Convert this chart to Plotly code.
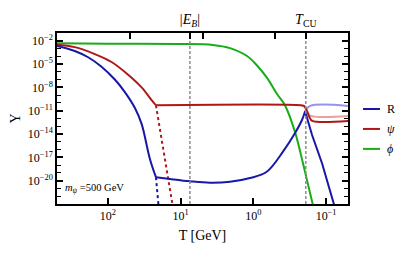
import numpy as np
import plotly.graph_objects as go

# ---- data (log10 values) ----
# R (blue)
R_up_logT = [2.702, 2.684, 2.454, 2.271, 2.087, 1.904, 1.766, 1.628, 1.536, 1.422, 1.339]
R_up_logY = [-2.68, -2.70, -3.31, -4.12, -5.34, -6.98, -8.61, -10.65, -12.69, -17.20, -19.55]
R_mid_logT = [1.339, 1.147, 0.872, 0.596, 0.321, 0.046, -0.184, -0.412, -0.573, -0.670, -0.711]
R_mid_logY = [-19.55, -19.78, -20.08, -20.27, -20.15, -19.66, -18.85, -16.20, -13.87, -12.16, -11.06]
R_low_logT = [-0.711, -0.752, -0.807, -0.945, -1.096, -1.110]
R_low_logY = [-11.06, -12.40, -14.12, -17.79, -22.69, -23.10]
R_dot_logT = [1.339, 1.305]
R_dot_logY = [-19.55, -23.05]
R_faded_logT = [-0.711, -0.780, -1.302]
R_faded_logY = [-11.06, -10.38, -10.38]

# psi (red)
psi_up_logT = [2.702, 2.454, 2.179, 1.949, 1.721, 1.536, 1.399, 1.353, 1.339]
psi_up_logY = [-2.52, -2.82, -3.71, -4.73, -6.37, -8.00, -9.63, -10.16, -10.30]
psi_flat_logT = [1.339, -0.656, -0.700, -0.740, -0.775, -0.808, -1.302]
psi_flat_logY = [-10.30, -10.30, -10.40, -11.10, -11.90, -12.30, -12.32]
psi_dot_logT = [1.339, 1.112]
psi_dot_logY = [-10.30, -23.05]
psi_faded_logT = [-0.670, -0.710, -0.740, -0.780, -1.302]
psi_faded_logY = [-10.30, -10.55, -11.15, -11.62, -11.67]

# phi (green)
phi_logT = [2.702, 2.0, 1.009, 0.555, 0.321, 0.087, -0.050, -0.188, -0.326, -0.436, -0.573, -0.683, -0.807, -0.821]
phi_logY = [-2.33, -2.37, -2.40, -2.53, -2.94, -3.96, -5.18, -6.77, -8.85, -10.32, -13.75, -17.79, -22.69, -23.17]

# reference temperatures
T_EB = 7.45
T_CU = 0.19

x_ticks = [100, 10, 1, 0.1]
x_ticktext = ["10<sup>2</sup>", "10<sup>1</sup>", "10<sup>0</sup>", "10<sup>\u22121</sup>"]
top_ticks = [50, 5, 0.5, T_EB, T_CU]
top_ticktext = ["", "", "", "|<i>E</i><sub><i>B</i></sub>|", "<i>T</i><sub>CU</sub>"]
y_major_exp = [-2, -5, -8, -11, -14, -17, -20]

BLUE = "#1818a8"
RED = "#b01818"
GREEN = "#18ac18"
FBLUE = "#9494ee"
FRED = "#e8a0a0"
GRAY = "#8c8c8c"

def p(lt, ly):
    return np.power(10.0, lt), np.power(10.0, ly)

fig = go.Figure()

def add(lt, ly, color, dash="solid", shape="spline", width=2):
    x, y = p(lt, ly)
    fig.add_trace(go.Scatter(x=x, y=y, mode="lines", showlegend=False,
                             line=dict(color=color, width=width, dash=dash, shape=shape),
                             hoverinfo="skip"))

# dashed reference lines (on top axis)
for tv in [T_EB, T_CU]:
    fig.add_trace(go.Scatter(x=[tv, tv], y=[1e-23, 1e-1], mode="lines", xaxis="x2",
                             showlegend=False, hoverinfo="skip",
                             line=dict(color=GRAY, width=1.5, dash="3px,2px")))

add(R_faded_logT, R_faded_logY, FBLUE, shape="spline")
add(psi_faded_logT, psi_faded_logY, FRED, shape="spline")
add(R_dot_logT, R_dot_logY, BLUE, dash="dot", shape="linear")
add(psi_dot_logT, psi_dot_logY, RED, dash="dot", shape="linear")
add(phi_logT, phi_logY, GREEN)
add(psi_up_logT, psi_up_logY, RED)
add(psi_flat_logT, psi_flat_logY, RED)
add(R_up_logT, R_up_logY, BLUE)
add(R_mid_logT, R_mid_logY, BLUE)
add(R_low_logT, R_low_logY, BLUE, shape="linear")

font = "Liberation Serif"
xr = [np.log10(500), np.log10(0.05)]

fig.update_layout(
    width=399, height=253,
    margin=dict(l=57, r=51, t=25, b=48),
    paper_bgcolor="white", plot_bgcolor="white",
    font=dict(family=font, size=12, color="black"),
    showlegend=False,
    xaxis=dict(type="log", range=xr, showgrid=False, zeroline=False,
               showline=True, linecolor="black", linewidth=1.5, mirror=False,
               ticks="inside", ticklen=6, tickwidth=1.5, tickcolor="black",
               tickvals=x_ticks, ticktext=x_ticktext, tickfont=dict(size=12),
               title=dict(text="T [GeV]", font=dict(size=14), standoff=8)),
    xaxis2=dict(type="log", range=xr, overlaying="x", side="top", showgrid=False,
                zeroline=False, showline=True, linecolor="black", linewidth=1.5,
                ticks="inside", ticklen=6, tickwidth=1.5, tickcolor="black",
                ticklabelstandoff=2,
                tickvals=top_ticks, ticktext=top_ticktext, tickfont=dict(size=14)),
    yaxis=dict(type="log", range=[-23, -1], showgrid=False, zeroline=False,
               showline=True, linecolor="black", linewidth=1.5, mirror="ticks",
               ticks="inside", ticklen=6, tickwidth=1.5, tickcolor="black",
               tickvals=[10.0 ** e for e in y_major_exp],
               ticktext=["10<sup>\u2212%d</sup>" % (-e) for e in y_major_exp],
               tickfont=dict(size=12),
               minor=dict(tickvals=[10.0 ** e for e in range(-23, 0)], ticks="inside",
                          ticklen=4, tickwidth=1.2, tickcolor="black", showgrid=False),
               title=dict(text="Y", font=dict(size=14), standoff=4)),
)

fig.add_annotation(x=0.02, y=0.09, xref="paper", yref="paper", xanchor="left", yanchor="middle",
                   text="<i>m</i><sub><i>\u03c8</i></sub> =500 GeV", showarrow=False,
                   font=dict(size=10.5, family=font))

# legend (manual)
leg = [("R", BLUE, 105), ("<i>\u03c8</i>", RED, 126), ("<i>\u03d5</i>", GREEN, 147)]
for txt, col, ypx in leg:
    yp = (205 - ypx) / 180.0
    fig.add_shape(type="line", xref="paper", yref="paper",
                  x0=(363 - 57) / 291.0, x1=(380 - 57) / 291.0, y0=yp, y1=yp,
                  line=dict(color=col, width=2))
    fig.add_annotation(x=(385 - 57) / 291.0, y=yp, xref="paper", yref="paper",
                       xanchor="left", yanchor="middle", text=txt, showarrow=False,
                       font=dict(size=12, family=font))

fig.write_html("out.html", config={"displayModeBar": False},
               post_script="document.body.style.margin='0px';")
